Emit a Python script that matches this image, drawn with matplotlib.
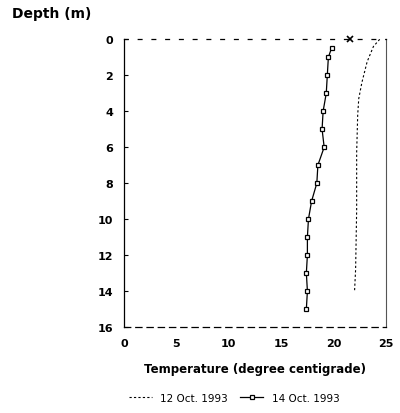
import matplotlib
matplotlib.use('Agg')
import matplotlib.pyplot as plt

# 12 Oct 1993 (dashed, warmer profile)
oct12_temp = [24.4, 23.8, 23.2, 22.7, 22.4, 22.3, 22.2, 22.2, 22.1, 22.0]
oct12_depth = [0.0, 0.4, 1.25, 2.4, 3.3, 4.2, 6.3, 9.5, 12.8, 14.0]

# 14 Oct 1993 (solid with markers)
oct14_temp = [19.8, 19.5, 19.4, 19.3, 19.0, 18.9, 19.1, 18.5, 18.4, 17.9, 17.6, 17.5, 17.5, 17.4, 17.5, 17.4]
oct14_depth = [0.5, 1, 2, 3, 4, 5, 6, 7, 8, 9, 10, 11, 12, 13, 14, 15]

# lone surface reading near 21.6
surface_temp = [21.6]
surface_depth = [0.0]

x_ticks = [0, 5, 10, 15, 20, 25]
y_ticks = [0, 2, 4, 6, 8, 10, 12, 14, 16]

fig = plt.figure(figsize=(4, 4.14), dpi=100)
ax = fig.add_axes([0.31, 0.2077, 0.655, 0.695])

ax.plot(oct12_temp, oct12_depth, color='black', linestyle=(0, (2, 2)), linewidth=0.8,
        label='12 Oct. 1993')
ax.plot(oct14_temp, oct14_depth, color='black', linewidth=0.9, marker='s', markersize=3.5,
        markerfacecolor='white', markeredgewidth=0.9, label='14 Oct. 1993')
ax.plot(surface_temp, surface_depth, linestyle='none', marker='x', color='black',
        markersize=4, markeredgewidth=1.2, clip_on=False)

ax.set_xlim(0, 25)
ax.set_ylim(16, 0)
ax.set_xticks(x_ticks)
ax.set_yticks(y_ticks)
ax.tick_params(axis='y', direction='in', length=3, width=0.8, labelsize=8, pad=8)
ax.tick_params(axis='x', length=0, labelsize=8, pad=8)
for lab in ax.get_xticklabels() + ax.get_yticklabels():
    lab.set_fontweight('bold')

ax.spines['top'].set_linestyle((0, (3, 8)))
ax.spines['bottom'].set_linestyle((0, (5, 4)))
ax.spines['right'].set_color('#555555')
ax.spines['right'].set_linewidth(0.8)
for s in ['top', 'bottom', 'left']:
    ax.spines[s].set_linewidth(0.9)

ax.set_xlabel('Temperature (degree centigrade)', fontsize=8.5, fontweight='bold', labelpad=10)
fig.text(0.03, 0.965, 'Depth (m)', fontsize=10, fontweight='bold', va='center', ha='left')

ax.legend(loc='center', bbox_to_anchor=(0.42, -0.245), ncol=2, frameon=False,
          fontsize=7.5, handlelength=2.2, columnspacing=1.2, handletextpad=0.8)

fig.savefig('out.png', dpi=100)
